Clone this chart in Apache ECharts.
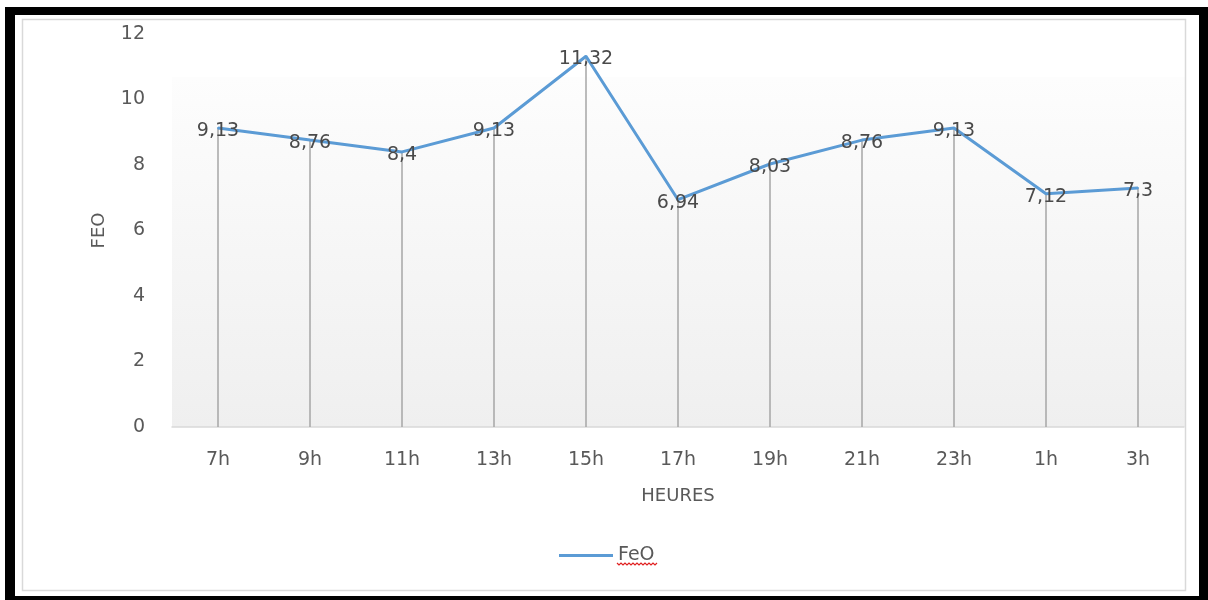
<!DOCTYPE html>
<html>
<head>
<meta charset="utf-8">
<script src="https://cdn.jsdelivr.net/npm/echarts@6/dist/echarts.min.js"></script>
<style>
  html, body { margin: 0; padding: 0; background: #ffffff; }
  #chart { width: 1208px; height: 600px; }
</style>
</head>
<body>
<div id="chart"></div>
<script>
// Hours of sampling and FeO content measured at each one
const hours = ['7h', '9h', '11h', '13h', '15h', '17h', '19h', '21h', '23h', '1h', '3h'];
const feo = [9.13, 8.76, 8.4, 9.13, 11.32, 6.94, 8.03, 8.76, 9.13, 7.12, 7.3];
const yTicks = [0, 2, 4, 6, 8, 10, 12];

const FONT = 'DejaVu Sans';
const TEXT = '#595959';
const LINE = '#5b9bd5';

const chart = echarts.init(document.getElementById('chart'), null, { renderer: 'canvas' });

// Small red wavy underline beneath the legend text
const squiggle = [];
for (let i = 0; i <= 20; i++) {
  squiggle.push([617 + i * 2, 563 + (i % 2 === 0 ? 0 : 2)]);
}

chart.setOption({
  animation: false,
  backgroundColor: '#ffffff',
  textStyle: { fontFamily: FONT },
  graphic: [
    // plot-area gradient fill
    {
      type: 'rect', z: -10, silent: true,
      shape: { x: 172, y: 77, width: 1013, height: 350 },
      style: {
        fill: new echarts.graphic.LinearGradient(0, 0, 0, 1, [
          { offset: 0, color: '#fdfdfd' },
          { offset: 1, color: '#efefef' }
        ])
      }
    },
    // inner thin frame
    {
      type: 'rect', z: -5, silent: true,
      shape: { x: 22.5, y: 19.5, width: 1163, height: 571 },
      style: { fill: null, stroke: '#d9d9d9', lineWidth: 1.5 }
    },
    // heavy black outer frame
    { type: 'rect', silent: true, shape: { x: 5, y: 7, width: 1203, height: 8 }, style: { fill: '#000' } },
    { type: 'rect', silent: true, shape: { x: 5, y: 7, width: 10, height: 593 }, style: { fill: '#000' } },
    { type: 'rect', silent: true, shape: { x: 1199, y: 7, width: 9, height: 593 }, style: { fill: '#000' } },
    { type: 'rect', silent: true, shape: { x: 5, y: 596, width: 1203, height: 4 }, style: { fill: '#000' } },
    {
      type: 'polyline', silent: true,
      shape: { points: squiggle },
      style: { stroke: '#e02020', lineWidth: 1.2, fill: null }
    }
  ],
  legend: {
    data: ['FeO'],
    left: 554,
    top: 541,
    icon: 'rect',
    itemWidth: 54,
    itemHeight: 3,
    itemGap: 5,
    textStyle: { fontFamily: FONT, fontSize: 19, color: TEXT, padding: [0, 0, 0, 0] }
  },
  grid: { left: 172, right: 24, top: 34, bottom: 173, containLabel: false },
  xAxis: {
    type: 'category',
    data: hours,
    boundaryGap: true,
    name: 'HEURES',
    nameLocation: 'middle',
    nameGap: 60,
    nameTextStyle: { fontFamily: FONT, fontSize: 18, color: TEXT },
    axisLine: { show: true, lineStyle: { color: '#d9d9d9', width: 1.5 } },
    axisTick: { show: false },
    axisLabel: { fontFamily: FONT, fontSize: 19, color: TEXT, margin: 24 },
    splitLine: { show: false }
  },
  yAxis: {
    type: 'value',
    min: yTicks[0],
    max: yTicks[yTicks.length - 1],
    interval: yTicks[1] - yTicks[0],
    name: 'FEO',
    nameLocation: 'middle',
    nameGap: 64,
    nameRotate: 90,
    nameTextStyle: { fontFamily: FONT, fontSize: 18, color: TEXT },
    axisLine: { show: false },
    axisTick: { show: false },
    axisLabel: { fontFamily: FONT, fontSize: 19, color: TEXT, margin: 27 },
    splitLine: { show: false }
  },
  series: [
    {
      // drop lines from each point down to the axis
      name: 'drop',
      type: 'bar',
      data: feo,
      barWidth: 1.5,
      itemStyle: { color: '#a6a6a6' },
      silent: true,
      z: 1
    },
    {
      name: 'FeO',
      type: 'line',
      data: feo,
      symbol: 'circle',
      symbolSize: 2,
      showSymbol: true,
      lineStyle: { color: LINE, width: 3 },
      itemStyle: { color: LINE },
      z: 3,
      label: {
        show: true,
        position: 'inside',
        offset: [0, 3],
        fontFamily: FONT,
        fontSize: 19,
        color: '#4a4a4a',
        formatter: p => String(p.value).replace('.', ',')
      }
    }
  ]
});
</script>
</body>
</html>
